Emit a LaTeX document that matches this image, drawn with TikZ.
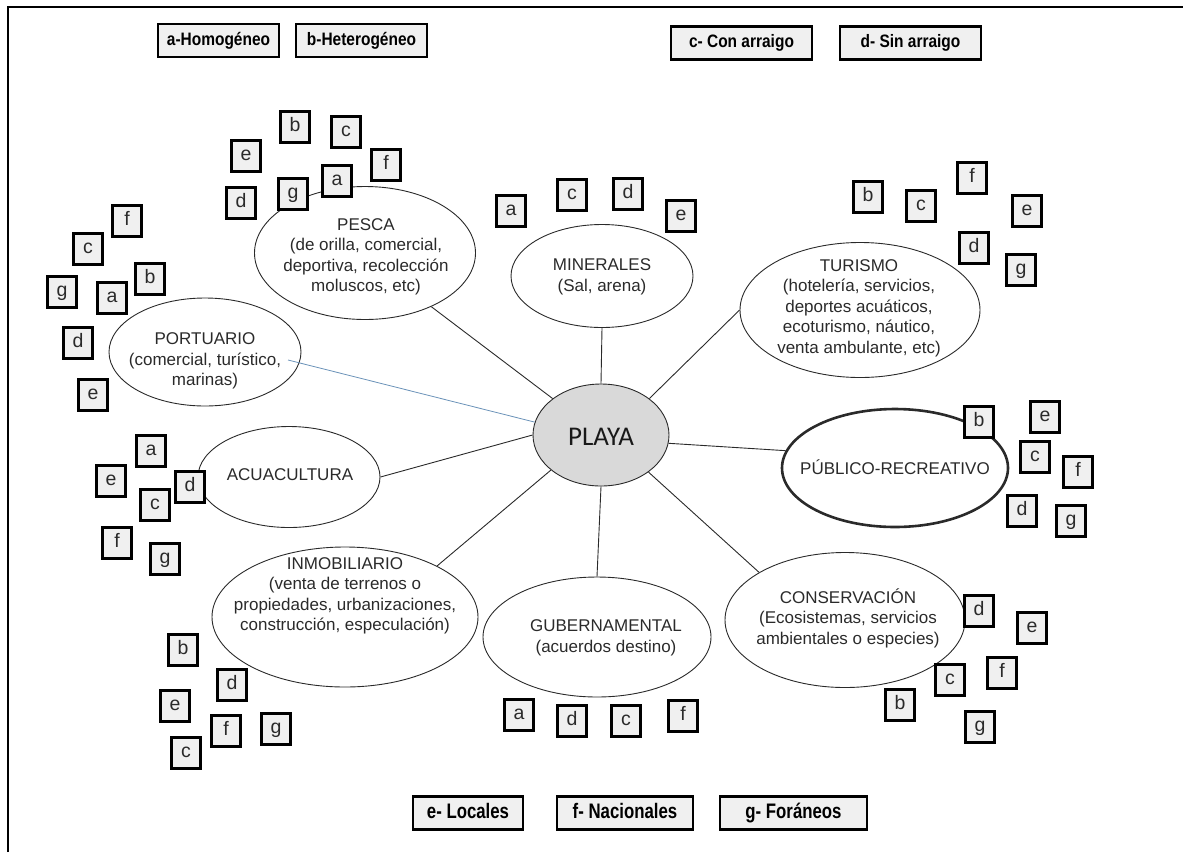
\documentclass[tikz,border=0pt]{standalone}
\usepackage{fontspec}
\setmainfont{Liberation Sans}
\newfontfamily\playafont{Carlito}
\newfontfamily\keyfont[FakeStretch=0.86]{Liberation Sans}
\newfontfamily\keyfontwide[FakeStretch=0.80]{Liberation Sans}
\usetikzlibrary{shapes.geometric}

\definecolor{boxgray}{HTML}{F0F0F0}
\definecolor{hubgray}{HTML}{D9D9D9}
\definecolor{inkgray}{HTML}{2A2A2A}
\definecolor{portblue}{HTML}{6A92B8}

\tikzset{
  area/.style={ellipse, draw=inkgray, line width=0.9pt, inner sep=0pt},
  areatext/.style={align=center, text=inkgray, inner sep=0pt,
    font=\fontsize{17}{20.5}\selectfont},
  tag/.style={draw=black, line width=2.2pt, fill=boxgray, inner sep=0pt,
    minimum width=29pt, minimum height=31pt, text height=13.5pt, text depth=4pt,
    font=\fontsize{19.5}{22}\selectfont, text=inkgray},
  legend/.style={draw=black, line width=2.2pt, fill=boxgray, inner sep=0pt,
    minimum height=33pt, text height=13pt, text depth=3.5pt,
    font=\keyfont\bfseries\fontsize{18}{20}\selectfont},
  legendlow/.style={legend, text height=15pt, text depth=4pt,
    font=\keyfontwide\bfseries\fontsize{21}{24}\selectfont},
  link/.style={draw=inkgray, line width=0.9pt}
}

\begin{document}
\begin{tikzpicture}[x=1pt,y=-1pt]
\useasboundingbox (0,0) rectangle (1183,852);

% page frame (left and top edges)
\draw[line width=1.8pt] (8,852) -- (8,7) -- (1183,7);

% legend
\node[legend, minimum width=121pt] (la) at (218.5,40.5) {a-Homogéneo};
\node[legend, minimum width=131pt] (lb) at (361.5,40.5) {b-Heterogéneo};
\node[legend, minimum width=141pt] (lc) at (741.5,43) {c- Con arraigo};
\node[legend, minimum width=141pt] (ld) at (910.5,43) {d- Sin arraigo};
\node[legendlow, minimum width=110pt] (le) at (468,813) {e- Locales};
\node[legendlow, minimum width=136pt] (lf) at (625,813) {f- Nacionales};
\node[legendlow, minimum width=147pt] (lg) at (793.5,813) {g- Foráneos};

% central node
\node[area, fill=hubgray, minimum width=136pt, minimum height=102pt] (playa) at (601,435) {};
\node[inner sep=0pt, font=\playafont\fontsize{27}{30}\selectfont, text=black!90] (playat) at (601,437) {PLAYA};

% surrounding uses of the beach
\node[area, minimum width=221pt, minimum height=133pt] (pesca) at (365,253) {};
\node[areatext] (pescat) at (366,257) {PESCA\\(de orilla, comercial,\\deportiva, recolección\\moluscos, etc)};

\node[area, minimum width=182pt, minimum height=103pt] (miner) at (602,276) {};
\node[areatext] (minert) at (602,277) {MINERALES\\(Sal, arena)};

\node[area, minimum width=240pt, minimum height=135pt] (turis) at (860,310) {};
\node[areatext] (turist) at (859,308) {TURISMO\\(hotelería, servicios,\\deportes acuáticos,\\ecoturismo, náutico,\\venta ambulante, etc)};

\node[area, minimum width=192pt, minimum height=108pt] (port) at (205,352) {};
\node[areatext] (portt) at (205,361) {PORTUARIO\\(comercial, turístico,\\marinas)};

\node[area, minimum width=182pt, minimum height=101pt] (acua) at (289,477) {};
\node[areatext] (acuat) at (290,475) {ACUACULTURA};

\node[area, line width=2.6pt, minimum width=226pt, minimum height=118pt] (publ) at (895,468) {};
\node[areatext] (publt) at (895,467) {PÚBLICO-RECREATIVO};

\node[area, minimum width=266pt, minimum height=140pt] (inmo) at (345,617) {};
\node[areatext] (inmot) at (345,596) {INMOBILIARIO\\(venta de terrenos o\\propiedades, urbanizaciones,\\construcción, especulación)};

\node[area, minimum width=228pt, minimum height=120pt] (guber) at (597,637) {};
\node[areatext] (gubert) at (606,638) {GUBERNAMENTAL\\(acuerdos destino)};

\node[area, minimum width=240pt, minimum height=135pt] (conse) at (845,620) {};
\node[areatext] (conset) at (848,618) {CONSERVACIÓN\\(Ecosistemas, servicios\\ambientales o especies)};

% connectors from the hub
\coordinate (portin) at (288,360);
\draw[link] (playa.143) -- (pesca.321);
\draw[link] (playa.north) -- (miner.south);
\draw[link] (playa.37) -- (turis.west);
\draw[draw=portblue, line width=0.8pt] (playa.169) -- (portin);
\draw[link] (playa.west) -- (acua.east);
\draw[link] (playa.353) -- (publ.171);
\draw[link] (playa.215) -- (inmo.29);
\draw[link] (playa.south) -- (guber.north);
\draw[link] (playa.322) -- (conse.151);

% PESCA tags
\node[tag] (pe-b) at (295,127) {b};
\node[tag] (pe-c) at (346,132) {c};
\node[tag] (pe-e) at (246,156) {e};
\node[tag] (pe-f) at (386,165) {f};
\node[tag] (pe-a) at (337,181) {a};
\node[tag] (pe-g) at (293,194) {g};
\node[tag] (pe-d) at (241,203) {d};

% PORTUARIO tags
\node[tag] (po-f) at (127,221) {f};
\node[tag] (po-c) at (88,249) {c};
\node[tag] (po-b) at (150,279) {b};
\node[tag] (po-g) at (62,292) {g};
\node[tag] (po-a) at (112,298) {a};
\node[tag] (po-d) at (78,343) {d};
\node[tag] (po-e) at (93,395) {e};

% MINERALES tags
\node[tag] (mi-a) at (511,211) {a};
\node[tag] (mi-c) at (572,195) {c};
\node[tag] (mi-d) at (628,194) {d};
\node[tag] (mi-e) at (681,216) {e};

% TURISMO tags
\node[tag] (tu-b) at (868,197) {b};
\node[tag] (tu-c) at (921,206) {c};
\node[tag] (tu-f) at (972,178) {f};
\node[tag] (tu-e) at (1027,211) {e};
\node[tag] (tu-d) at (974,248) {d};
\node[tag] (tu-g) at (1021,270) {g};

% PUBLICO-RECREATIVO tags
\node[tag] (pu-b) at (979,422) {b};
\node[tag] (pu-e) at (1045,417) {e};
\node[tag] (pu-c) at (1035,457) {c};
\node[tag] (pu-f) at (1078,472) {f};
\node[tag] (pu-d) at (1022,511) {d};
\node[tag] (pu-g) at (1071,521) {g};

% CONSERVACION tags
\node[tag] (co-d) at (979,611) {d};
\node[tag] (co-e) at (1032,628) {e};
\node[tag] (co-c) at (950,680) {c};
\node[tag] (co-f) at (1002,673) {f};
\node[tag] (co-b) at (900,705) {b};
\node[tag] (co-g) at (980,727) {g};

% GUBERNAMENTAL tags
\node[tag] (gu-a) at (519,715) {a};
\node[tag] (gu-d) at (572,721) {d};
\node[tag] (gu-c) at (626,721) {c};
\node[tag] (gu-f) at (683,716) {f};

% INMOBILIARIO tags
\node[tag] (in-b) at (183,650) {b};
\node[tag] (in-d) at (232,685) {d};
\node[tag] (in-e) at (175,706) {e};
\node[tag] (in-f) at (226,731) {f};
\node[tag] (in-g) at (276,729) {g};
\node[tag] (in-c) at (186,753) {c};

% ACUACULTURA tags
\node[tag] (ac-a) at (151,451) {a};
\node[tag] (ac-e) at (111,481) {e};
\node[tag] (ac-d) at (190,487) {d};
\node[tag] (ac-c) at (155,505) {c};
\node[tag] (ac-f) at (117,543) {f};
\node[tag] (ac-g) at (165,559) {g};
\end{tikzpicture}
\end{document}
